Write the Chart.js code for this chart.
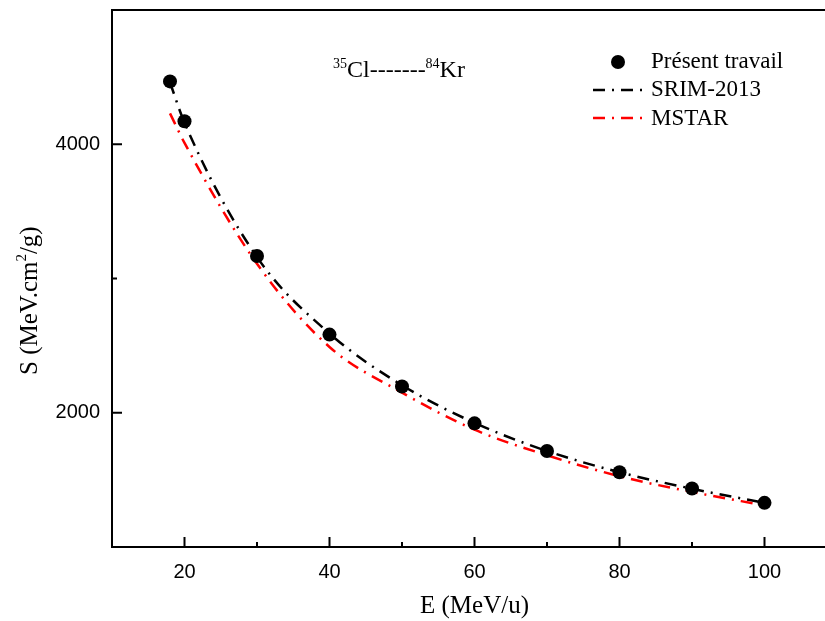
<!DOCTYPE html>
<html>
<head>
<meta charset="utf-8">
<script src="https://cdn.jsdelivr.net/npm/chart.js@4.4.1/dist/chart.umd.min.js"></script>
<style>
html,body{margin:0;padding:0;background:#fff;overflow:hidden;}
canvas{display:block;}
</style>
</head>
<body>
<canvas id="c" width="844" height="621" style="width:844px;height:621px"></canvas>
<script>
// ---- data ----
const energies = [18, 20, 30, 40, 50, 60, 70, 80, 90, 100];
const presentWork = [4468, 4171, 3168, 2582, 2196, 1921, 1715, 1557, 1436, 1329];
const srim2013 = [4460, 4160, 3160, 2590, 2205, 1925, 1715, 1557, 1434, 1329];
const mstar = [4230, 4010, 3110, 2490, 2150, 1874, 1683, 1527, 1410, 1310];
const xTickLabels = [20, 40, 60, 80, 100];
const yTickLabels = [2000, 4000];
const seriesNames = ['Présent travail', 'SRIM-2013', 'MSTAR'];

const toXY = (ys) => energies.map((e, i) => ({x: e, y: ys[i]}));
const DASH = [12, 7, 2, 7];
const SERIF = '"Liberation Serif", "Times New Roman", serif';

const framePlugin = {
  id: 'frame',
  afterDraw(chart) {
    const {ctx, chartArea: a, scales: {x, y}} = chart;
    ctx.save();
    ctx.strokeStyle = '#000';
    ctx.lineWidth = 2;
    ctx.setLineDash([]);
    ctx.beginPath();
    ctx.moveTo(a.left, a.top); ctx.lineTo(a.right, a.top);
    ctx.lineTo(a.right, a.bottom); ctx.lineTo(a.left, a.bottom);
    ctx.closePath();
    ctx.stroke();
    // tick marks (inward)
    ctx.beginPath();
    x.ticks.forEach(t => {
      const px = x.getPixelForValue(t.value);
      const len = xTickLabels.includes(t.value) ? 10 : 5;
      ctx.moveTo(px, a.bottom); ctx.lineTo(px, a.bottom - len);
    });
    y.ticks.forEach(t => {
      const py = y.getPixelForValue(t.value);
      const len = yTickLabels.includes(t.value) ? 10 : 5;
      ctx.moveTo(a.left, py); ctx.lineTo(a.left + len, py);
    });
    ctx.stroke();

    ctx.fillStyle = '#000';
    ctx.textBaseline = 'alphabetic';
    ctx.textAlign = 'left';

    // y axis title with superscript
    ctx.save();
    ctx.translate(37, 375);
    ctx.rotate(-Math.PI / 2);
    let tx0 = 0;
    ctx.font = '25px ' + SERIF; ctx.fillText('S (MeV.cm', tx0, 0); tx0 += ctx.measureText('S (MeV.cm').width;
    ctx.font = '15px ' + SERIF; ctx.fillText('2', tx0, -11); tx0 += ctx.measureText('2').width;
    ctx.font = '25px ' + SERIF; ctx.fillText('/g)', tx0, 0);
    ctx.restore();

    // annotation 35Cl-------84Kr
    let cx = 333;
    const base = 77;
    const sup = '14px ' + SERIF;
    const big = '24px ' + SERIF;
    ctx.font = sup; ctx.fillText('35', cx, base - 9); cx += ctx.measureText('35').width;
    ctx.font = big; ctx.fillText('Cl-------', cx, base); cx += ctx.measureText('Cl-------').width;
    ctx.font = sup; ctx.fillText('84', cx, base - 9); cx += ctx.measureText('84').width;
    ctx.font = big; ctx.fillText('Kr', cx, base);

    // legend
    const ds = chart.data.datasets;
    ctx.font = '23px ' + SERIF;
    const lx1 = 593, lx2 = 643, tx = 651;
    ctx.beginPath();
    ctx.arc(618, 62, 7, 0, Math.PI * 2);
    ctx.fillStyle = ds[0].backgroundColor;
    ctx.fill();
    ctx.fillStyle = '#000';
    ctx.fillText(ds[0].label, tx, 68);
    [[ds[1], 90, 96], [ds[2], 118, 125]].forEach(([d, ly, ty]) => {
      ctx.beginPath();
      ctx.strokeStyle = d.borderColor;
      ctx.lineWidth = d.borderWidth;
      ctx.setLineDash(d.borderDash);
      ctx.moveTo(lx1, ly); ctx.lineTo(lx2, ly);
      ctx.stroke();
      ctx.setLineDash([]);
      ctx.fillStyle = '#000';
      ctx.fillText(d.label, tx, ty);
    });
    ctx.restore();
  }
};

new Chart(document.getElementById('c'), {
  type: 'scatter',
  data: {
    datasets: [
      {
        label: seriesNames[0], data: toXY(presentWork), showLine: false,
        pointRadius: 7, pointHoverRadius: 7, backgroundColor: '#000', borderColor: '#000', borderWidth: 0, order: 0
      },
      {
        label: seriesNames[1], data: toXY(srim2013), showLine: true, pointRadius: 0,
        borderColor: '#000', backgroundColor: '#000', borderWidth: 2.5, borderDash: DASH,
        cubicInterpolationMode: 'monotone', order: 2
      },
      {
        label: seriesNames[2], data: toXY(mstar), showLine: true, pointRadius: 0,
        borderColor: '#ff0000', backgroundColor: '#ff0000', borderWidth: 2.5, borderDash: DASH,
        cubicInterpolationMode: 'monotone', order: 1
      }
    ]
  },
  options: {
    responsive: false,
    animation: false,
    devicePixelRatio: 1,
    layout: {padding: {top: 10, right: 0, left: 0, bottom: 0}},
    plugins: {legend: {display: false}, tooltip: {enabled: false}},
    scales: {
      x: {
        type: 'linear', min: 10, max: 110,
        grid: {display: false, drawTicks: false},
        border: {display: false},
        afterFit(s) { s.height = 74; s.paddingLeft = 0; s.paddingRight = 0; },
        ticks: {
          stepSize: 10, padding: 13, color: '#000', maxRotation: 0, autoSkip: false,
          font: {family: '"Liberation Sans", Arial, sans-serif', size: 20},
          callback: (v) => xTickLabels.includes(v) ? String(v) : ''
        },
        title: {
          display: true, text: 'E (MeV/u)', color: '#000',
          font: {family: SERIF, size: 25},
          padding: {top: 0, bottom: 0}
        }
      },
      y: {
        type: 'linear', min: 1000, max: 5000,
        grid: {display: false, drawTicks: false},
        border: {display: false},
        afterFit(s) { s.width = 112; s.paddingTop = 0; s.paddingBottom = 0; },
        ticks: {
          stepSize: 1000, padding: 12, color: '#000', autoSkip: false,
          font: {family: '"Liberation Sans", Arial, sans-serif', size: 20},
          callback: (v) => yTickLabels.includes(v) ? String(v) : ''
        },
        title: {display: false}
      }
    }
  },
  plugins: [framePlugin]
});
</script>
</body>
</html>
